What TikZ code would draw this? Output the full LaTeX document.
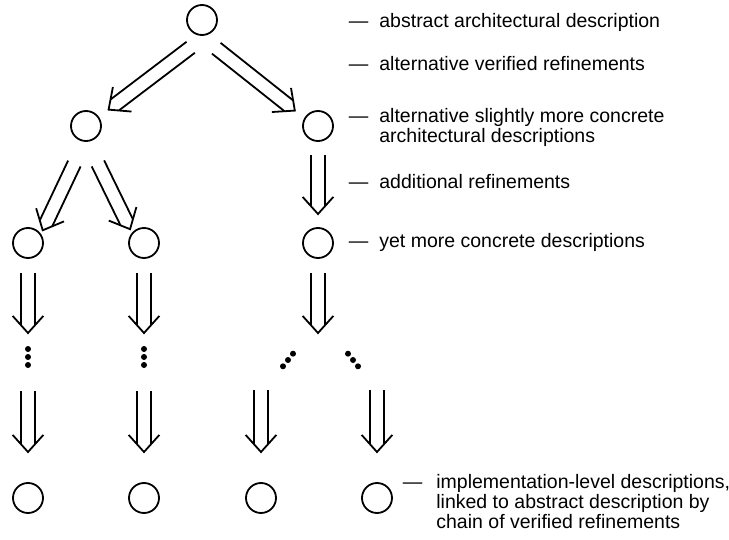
\documentclass[tikz,border=0pt]{standalone}
\usepackage{fontspec}
\setmainfont{Liberation Sans}
\usetikzlibrary{calc}

\begin{document}
\begin{tikzpicture}[x=0.5pt, y=-0.5pt, line width=0.9pt]

% Define the styles
\tikzstyle{desc}=[circle, draw, minimum size=15pt, inner sep=0pt]
\tikzstyle{head}=[line join=miter]
\tikzstyle{note}=[anchor=base west, inner sep=0pt, font=\fontsize{9.75pt}{10pt}\selectfont]

\useasboundingbox (0,0) rectangle (729,540);

% Define the nodes
\node[desc] (top) at (202,20) {};
\node[desc] (l1) at (86,126) {};
\node[desc] (r1) at (318,126) {};
\node[desc] (ll) at (28,243) {};
\node[desc] (lr) at (144,243) {};
\node[desc] (r2) at (318,243) {};
\node[desc] (b1) at (28,498) {};
\node[desc] (b2) at (144,498) {};
\node[desc] (b3) at (261,498) {};
\node[desc] (b4) at (377,498) {};

% the dots and the free ends
\coordinate (m1) at (28,357);
\coordinate (m2) at (144,357);
\coordinate (fork) at (318,357);
\coordinate (f1) at (288,360);
\coordinate (f2) at (353,360);
\coordinate (s3) at (261,390);
\coordinate (s4) at (377,390);

\foreach \m in {m1,m2}
  \foreach \k in {-1,0,1}
    \fill ($(\m)+(0,8*\k)$) circle (1.5pt);
\foreach \k in {-1,0,1} {
  \fill ($(f1)+(5*\k,-6.3*\k)$) circle (1.5pt);
  \fill ($(f2)+(5*\k,6.3*\k)$) circle (1.5pt);
}

% Add the refinements (two parallel strokes and an open head)
\foreach \a/\b/\s/\e in {top.-73/l1.35/10pt/6pt, top.-95/r1.150/10pt/6pt,
    l1.-95/ll.35/12pt/2pt, l1.-85/lr.140/12pt/2pt, r1/r2/14.5pt/14.5pt,
    ll/m1/15pt/12pt, lr/m2/15pt/12pt, r2/fork/15pt/12pt,
    m1/b1/17pt/23pt, m2/b2/17pt/23pt, s3/b3/0pt/23pt, s4/b4/0pt/23pt} {
  \path ($(\b)!\e!(\a)$) coordinate (tip)
        ($(\a)!\s!(\b)$) coordinate (s)
        ($(\b)!\e+3.9pt!(\a)$) coordinate (e);
  \draw ($(s)!3.45pt!90:(e)$) -- ($(e)!3.45pt!-90:(s)$)
        ($(s)!3.45pt!-90:(e)$) -- ($(e)!3.45pt!90:(s)$);
  \draw[head] ($(tip)!11.5pt!42:(\a)$) -- (tip) -- ($(tip)!11.5pt!-42:(\a)$);
}

% Add the notes
\node[note] (n1) at (348,27.5) {\textemdash\hspace{5.5pt}abstract architectural description};
\node[note] (n2) at (348,70.5) {\textemdash\hspace{5.5pt}alternative verified refinements};
\node[note] (n3) at (348,122.5) {\textemdash\hspace{5.5pt}\begin{tabular}[t]{@{}l@{}}alternative slightly more concrete\\architectural descriptions\end{tabular}};
\node[note] (n4) at (348,188.5) {\textemdash\hspace{5.5pt}additional refinements};
\node[note] (n5) at (348,247.5) {\textemdash\hspace{5.5pt}yet more concrete descriptions};
\node[note] (n6) at (402,488.5) {\textemdash\hspace{7pt}\begin{tabular}[t]{@{}l@{}}implementation-level descriptions,\\linked to abstract description by\\chain of verified refinements\end{tabular}};

\end{tikzpicture}
\end{document}
